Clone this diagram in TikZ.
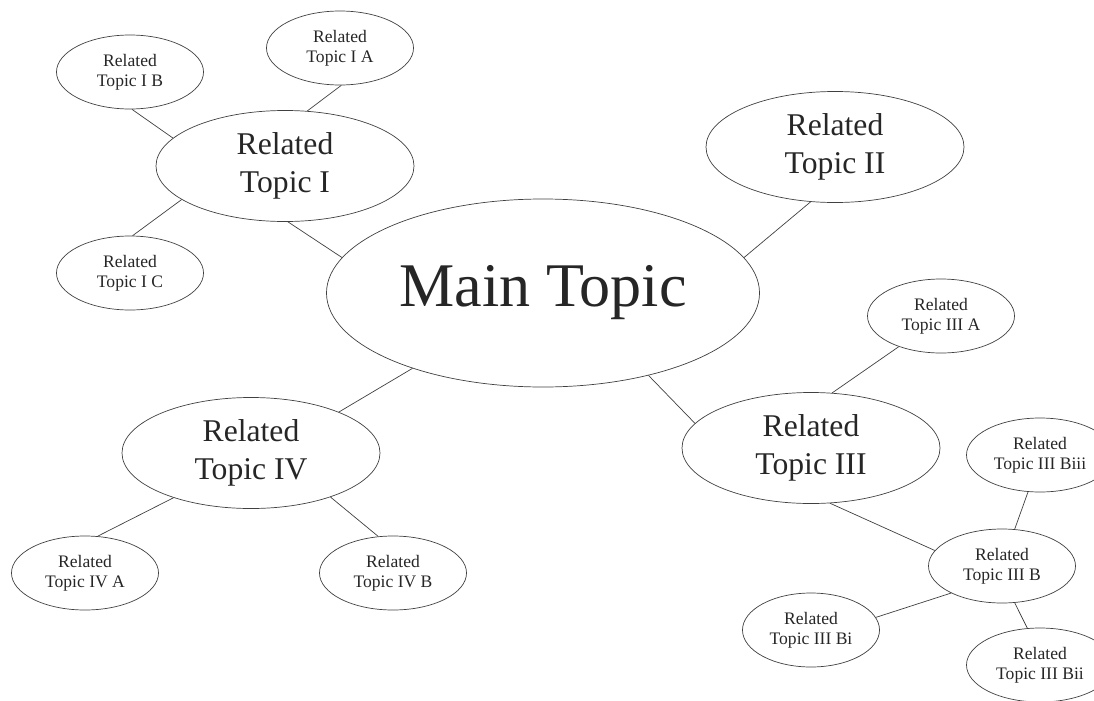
\documentclass[tikz,border=0pt]{standalone}
\usepackage{fontspec}
\setmainfont{Liberation Serif}
\usetikzlibrary{shapes.geometric}

\begin{document}
\begin{tikzpicture}[x=0.03cm, y=-0.03cm]
    %mind map
\tikzset{
    topic/.style={ellipse, draw=black!75, line width=0.6pt, inner sep=0pt, align=center, text=black!85},
    big topic/.style={topic, minimum width=7.74cm, minimum height=3.33cm, font=\fontsize{27}{33}\selectfont},
    small topic/.style={topic, minimum width=4.41cm, minimum height=2.22cm, font=\fontsize{15}{17}\selectfont},
    link/.style={draw=black!75, line width=0.6pt}
}

    \useasboundingbox (0,0) rectangle (1094,700);
    \node[topic, minimum width=12.99cm, minimum height=5.64cm, font=\fontsize{53}{60}\selectfont](Main) at (543,293) {Main Topic};
    \node[big topic](TopicI) at (285,166) {Related\\Topic I};
    \node[big topic](TopicII) at (835,147) {Related\\Topic II};
    \node[big topic](TopicIII) at (811,448) {Related\\Topic III};
    \node[big topic](TopicIV) at (251,453) {Related\\Topic IV};
    \node[small topic](TopicIA) at (340,48) {Related\\Topic I A};
    \node[small topic](TopicIB) at (130,72) {Related\\Topic I B};
    \node[small topic](TopicIC) at (130,273) {Related\\Topic I C};
    \node[small topic](TopicIIIA) at (941,316) {Related\\Topic III A};
    \node[small topic](TopicIIIB) at (1002,566) {Related\\Topic III B};
    \node[small topic, minimum width=4.11cm](TopicIIIBi) at (811,630) {Related\\Topic III Bi};
    \node[small topic](TopicIIIBii) at (1040,665) {Related\\Topic III Bii};
    \node[small topic](TopicIIIBiii) at (1040,455) {Related\\Topic III Biii};
    \node[small topic](TopicIVA) at (85,573) {Related\\Topic IV A};
    \node[small topic](TopicIVB) at (393,573) {Related\\Topic IV B};

    \draw[link] (Main.170.5) -- (TopicI.-87);
    \draw[link] (Main.10.8) -- (TopicII.-114);
    \draw[link] (Main.-38.8) -- (TopicIII.168);
    \draw[link] (Main.-150.6) -- (TopicIV.25);
    \draw[link] (TopicI.68) -- (TopicIA.-88);
    \draw[link] (TopicI.166) -- (TopicIB.-87);
    \draw[link] (TopicI.-162) -- (TopicIC.86);
    \draw[link] (TopicIII.69) -- (TopicIIIA.-144);
    \draw[link] (TopicIII.-71) -- (TopicIIIB.167);
    \draw[link] (TopicIIIB.71) -- (TopicIIIBiii.-108);
    \draw[link] (TopicIIIB.-152) -- (TopicIIIBi.11);
    \draw[link] (TopicIIIB.-71) -- (TopicIIIBii.109);
    \draw[link] (TopicIV.-150) -- (TopicIVA.71);
    \draw[link] (TopicIV.-29) -- (TopicIVB.112);
\end{tikzpicture}
\end{document}
